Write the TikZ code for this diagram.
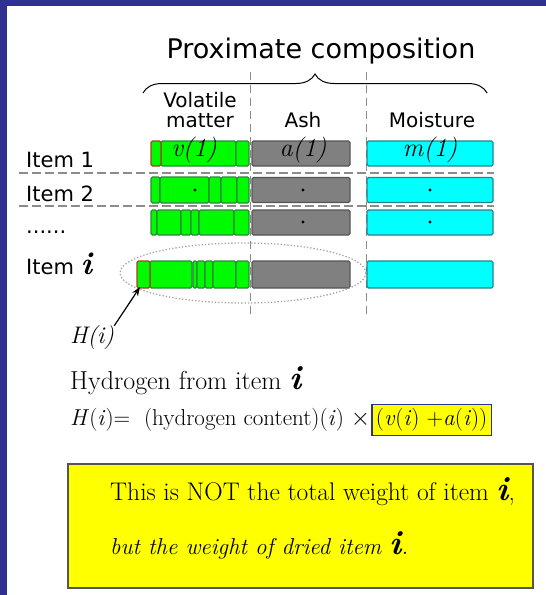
\documentclass[tikz,border=0pt]{standalone}
\usepackage{fontspec}
\setsansfont{DejaVu Sans}
\usetikzlibrary{decorations.pathreplacing,arrows.meta,positioning}

\definecolor{frameblue}{RGB}{46,49,146}
\definecolor{vmgreen}{RGB}{0,250,0}
\definecolor{vmedge}{RGB}{45,135,60}
\definecolor{segred}{RGB}{160,70,30}
\definecolor{ashgray}{RGB}{128,128,128}
\definecolor{ashedge}{RGB}{85,85,85}
\definecolor{mcyan}{RGB}{0,255,255}
\definecolor{medge}{RGB}{40,130,140}
\definecolor{noteyellow}{RGB}{255,255,0}
\definecolor{sepgray}{RGB}{140,140,140}

\tikzset{
  head/.style={font=\sffamily\fontsize{27}{30}\selectfont},
  colhead/.style={font=\sffamily\fontsize{20}{20}\selectfont, align=center},
  itemlab/.style={font=\sffamily\fontsize{21}{24}\selectfont, anchor=west, inner sep=0pt},
  barlab/.style={font=\rmfamily\itshape\fontsize{26}{26}\selectfont, inner sep=0pt},
  seg/.style={line width=1.1pt, rounded corners=1.5pt, fill=vmgreen, draw=vmedge},
  ashbar/.style={draw=ashedge, fill=ashgray, line width=1.1pt, rounded corners=1.5pt,
    minimum width=98pt, minimum height=25pt, inner sep=0pt},
  mbar/.style={draw=medge, fill=mcyan, line width=1.1pt, rounded corners=1.5pt,
    minimum width=126pt, minimum height=25pt, inner sep=0pt},
  rowsep/.style={sepgray, line width=1.6pt, dash pattern=on 9pt off 4pt},
  colsep/.style={sepgray, line width=0.8pt, dash pattern=on 8pt off 5pt},
  serif/.style={font=\rmfamily\fontsize{26}{28}\selectfont, anchor=west, inner sep=0pt},
}

\begin{document}
\begin{tikzpicture}[x=1pt,y=-1pt]
\useasboundingbox (0,0) rectangle (546,595);
% frame
\fill[frameblue] (0,0) rectangle (546,6);
\fill[frameblue] (0,0) rectangle (7,595);

% heading and brace
\node[head] (title) at (321,51) {Proximate composition};
\draw[line width=1pt, decorate, decoration={brace, amplitude=19pt}] (143,93) -- (487,93);

\node[colhead] (vm) at (200,110) {Volatile\\matter};
\node[colhead] (ash) at (303,120) {Ash};
\node[colhead] (moist) at (432,120) {Moisture};

\draw[colsep] (250,72) -- (250,318);
\draw[colsep] (366,72) -- (366,318);

% row labels
\node[itemlab] (it1) at (26,160) {Item 1};
\node[itemlab] (it2) at (26,194) {Item 2};
\node[itemlab] (dots) at (26,232) {......};
\node[itemlab] (iti) at (26,264) {Item {\rmfamily\itshape\bfseries\fontsize{32}{32}\selectfont i}};

% volatile matter segments
\foreach \a/\b in {161/236, 236/249} \draw[seg] (\a,141) rectangle (\b,166);
\draw[seg, draw=segred] (151,141) rectangle (161,166);
\foreach \a/\b in {151/160, 160/209, 209/221, 221/237, 237/249} \draw[seg] (\a,177) rectangle (\b,203);
\foreach \a/\b in {151/157, 157/181, 181/191, 191/199, 199/234, 234/249} \draw[seg] (\a,210) rectangle (\b,235);
\foreach \a/\b in {150/192, 193/197, 197/205, 205/213, 213/236, 236/249} \draw[seg] (\a,261) rectangle (\b,288);
\draw[seg, draw=segred] (137,261) rectangle (150,288);
\coordinate (hseg) at (140,287);

% ash and moisture bars
\node[ashbar] (a1) at (301,153.5) {};
\node[ashbar] (a2) at (301,190) {};
\node[ashbar] (a3) at (301,222.5) {};
\node[ashbar, minimum height=27pt] (ai) at (301,274.5) {};
\node[mbar] (m1) at (430,153.5) {};
\node[mbar] (m2) at (430,190) {};
\node[mbar] (m3) at (430,222.5) {};
\node[mbar, minimum height=27pt] (mi) at (430,274.5) {};

\node[barlab] (v1lab) at (194,150) {v(1)};
\node[barlab] (a1lab) at (303,150) {a(1)};
\node[barlab] (m1lab) at (430,150) {m(1)};
\foreach \p in {(195,190), (303,190), (430,190), (303,222), (430,222)} \fill \p circle (1.6pt);

\draw[rowsep] (19,173) -- (494,173);
\draw[rowsep] (19,206) -- (494,206);

% item i
\draw[sepgray!80, dotted, line width=1.3pt] (243,273) ellipse [x radius=123, y radius=30];

% hydrogen
\node[serif, font=\rmfamily\itshape\fontsize{24}{26}\selectfont] (hlab) at (70,338) {H(i)};
\draw[-{Stealth[length=9pt]}, line width=1.2pt] (hlab.north east) -- (hseg);
\node[serif] (hyd) at (70,381) {Hydrogen from item {\itshape\bfseries\fontsize{34}{34}\selectfont i}};
\node[serif, font=\rmfamily\fontsize{23}{26}\selectfont] (form) at (70,420) {\textit{H}(\textit{i})= \ (hydrogen content)(\textit{i}) $\times$};
\node[serif, font=\rmfamily\fontsize{23}{26}\selectfont, draw=frameblue, line width=1.2pt, fill=noteyellow, inner sep=4pt, right=1pt of form] (sum) {(\textit{v}(\textit{i}) +\textit{a}(\textit{i}))};

% note
\node[draw=ashedge, line width=1.5pt, fill=noteyellow, minimum width=465pt, minimum height=124pt] (note) at (300.5,526) {};
\node[serif, font=\rmfamily\fontsize{25.5}{28}\selectfont] (note1) at (110,492) {This is NOT the total weight of item {\itshape\bfseries\fontsize{34}{34}\selectfont i},};
\node[serif, font=\rmfamily\itshape\fontsize{23}{26}\selectfont] (note2) at (110,545) {but the weight of dried item {\bfseries\fontsize{34}{34}\selectfont i}.};
\end{tikzpicture}
\end{document}
